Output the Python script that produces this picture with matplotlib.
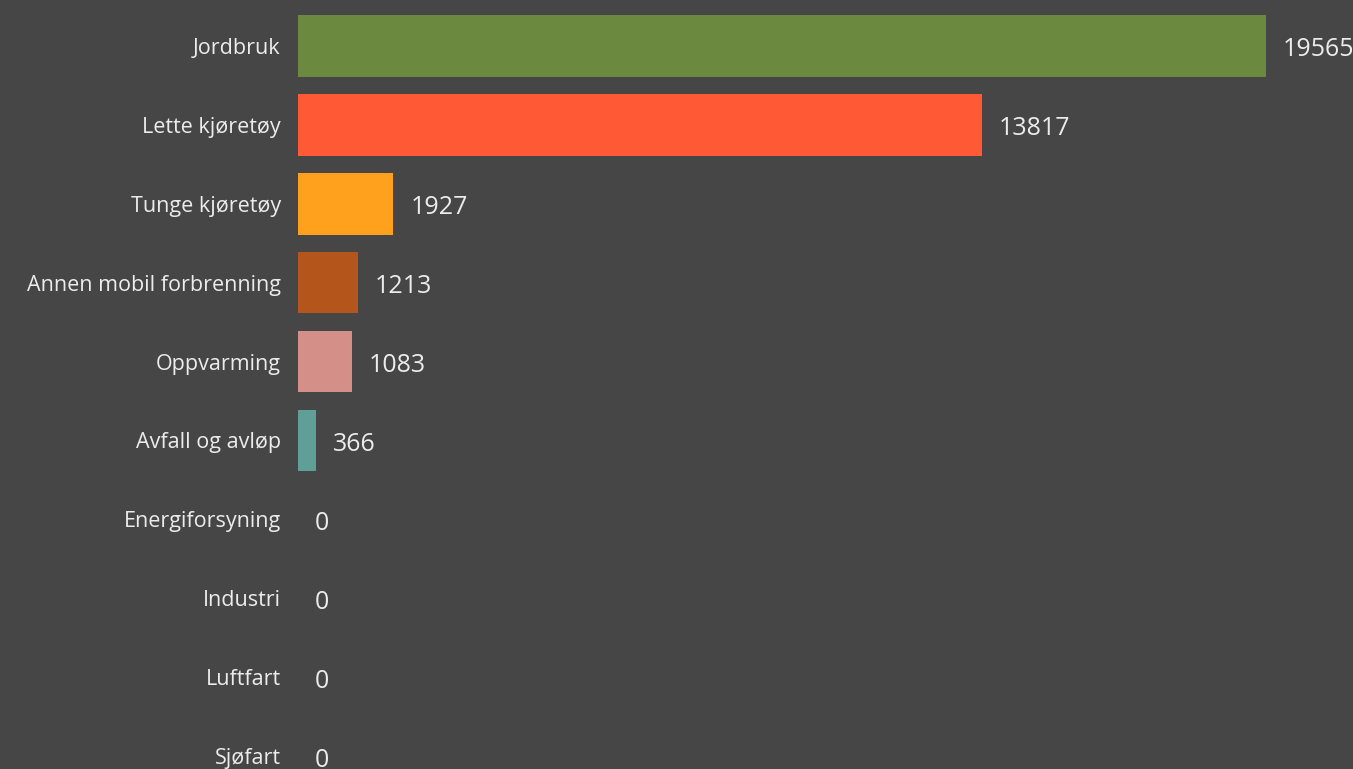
import matplotlib.pyplot as plt
from matplotlib.transforms import offset_copy

categories = ["Jordbruk", "Lette kjøretøy", "Tunge kjøretøy", "Annen mobil forbrenning",
              "Oppvarming", "Avfall og avløp", "Energiforsyning", "Industri",
              "Luftfart", "Sjøfart"]
values = [19565, 13817, 1927, 1213, 1083, 366, 0, 0, 0, 0]
colors = ["#6b8a40", "#ff5a35", "#ffa11c", "#b4561b", "#d38f88", "#5f9f98",
          "#6b8a40", "#6b8a40", "#6b8a40", "#6b8a40"]

bg = "#464646"
txt = "#ececec"
plt.rcParams['font.family'] = ['Open Sans', 'DejaVu Sans']

fig = plt.figure(figsize=(13.53, 7.69), dpi=100, facecolor=bg)
ax = fig.add_axes([298 / 1353, 0, 1 - 298 / 1353, 1], facecolor=bg)

y = list(range(len(categories)))
ax.barh(y, values, height=0.78, color=colors)

ax.set_xlim(0, 1055 / 968 * 19565)
ax.set_ylim(9 + 13 / 79, -46 / 79)
for s in ax.spines.values():
    s.set_visible(False)
ax.set_xticks([])
ax.set_yticks(y)
ax.set_yticklabels(categories, color=txt, fontsize=15.5)
ax.tick_params(axis="y", length=0, pad=12.5)

# value labels at the end of each bar
trans = offset_copy(ax.transData, fig=fig, x=17, y=-4, units="dots")
for i, v in enumerate(values):
    ax.text(v, i, str(v), transform=trans, color=txt, fontsize=18,
            va="center", ha="left")

fig.savefig("out.png", dpi=100, facecolor=bg)
